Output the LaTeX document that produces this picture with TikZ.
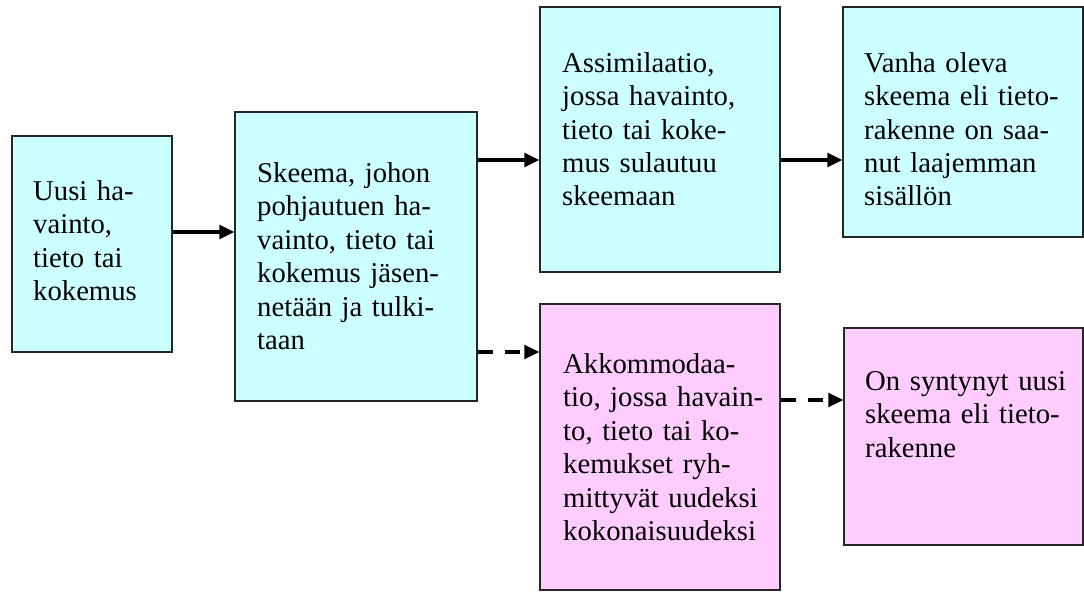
\documentclass[tikz,border=0pt]{standalone}
\usepackage{fontspec}
\setmainfont{Liberation Serif}
\usetikzlibrary{arrows.meta}
\definecolor{boxcyan}{RGB}{204,255,255}
\definecolor{boxpink}{RGB}{255,204,255}
\begin{document}
\begin{tikzpicture}[x=1pt,y=-1pt,
  box/.style={draw=black!85,line width=1.5pt,rectangle,inner sep=0pt},
  cyanbox/.style={box,fill=boxcyan},
  pinkbox/.style={box,fill=boxpink},
  txt/.style={anchor=base west,inner sep=0pt,text width=225pt,align=left,
    font=\fontsize{28.7}{33.5}\selectfont},
  arr/.style={line width=3.2pt,-{Triangle[length=15pt,width=14pt]}},
  darr/.style={arr,dash pattern=on 15pt off 12pt}]
\useasboundingbox (0,0) rectangle (1084,594);
\fill[white] (0,0) rectangle (1084,594);
% boxes
\node[cyanbox,minimum width=160pt,minimum height=216pt] (b1) at (92,244) {};
\node[cyanbox,minimum width=242pt,minimum height=289pt] (b2) at (356,256.5) {};
\node[cyanbox,minimum width=240pt,minimum height=265pt] (b3) at (660,139.5) {};
\node[cyanbox,minimum width=240pt,minimum height=230pt] (b4) at (963,122) {};
\node[pinkbox,minimum width=240pt,minimum height=286pt] (b5) at (660,447) {};
\node[pinkbox,minimum width=239pt,minimum height=217pt] (b6) at (963.5,436.5) {};
% texts
\node[txt] (t1) at (33,200) {Uusi ha-\\vainto,\\tieto tai\\kokemus};
\node[txt] (t2) at (257,182) {Skeema, johon\\pohjautuen ha-\\vainto, tieto tai\\kokemus jäsen-\\netään ja tulki-\\taan};
\node[txt] (t3) at (562,72) {Assimilaatio,\\jossa havainto,\\tieto tai koke-\\mus sulautuu\\skeemaan};
\node[txt] (t4) at (864,72) {Vanha oleva\\skeema eli tieto-\\rakenne on saa-\\nut laajemman\\sisällön};
\node[txt] (t5) at (563,373) {Akkommodaa-\\tio, jossa havain-\\to, tieto tai ko-\\kemukset ryh-\\mittyvät uudeksi\\kokonaisuudeksi};
\node[txt] (t6) at (865,390) {On syntynyt uusi\\skeema eli tieto-\\rakenne};
% connectors
\draw[arr] ([yshift=12pt]b1.east) -- ([yshift=12pt]b1.east -| b2.west);
\draw[arr] ([yshift=96.5pt]b2.east) -- ([yshift=96.5pt]b2.east -| b3.west);
\draw[arr] ([yshift=-20.5pt]b3.east) -- ([yshift=-20.5pt]b3.east -| b4.west);
\draw[darr] ([yshift=-95.5pt]b2.east) -- ([yshift=-95.5pt]b2.east -| b5.west);
\draw[darr] ([yshift=47pt]b5.east) -- ([yshift=47pt]b5.east -| b6.west);
\end{tikzpicture}
\end{document}
